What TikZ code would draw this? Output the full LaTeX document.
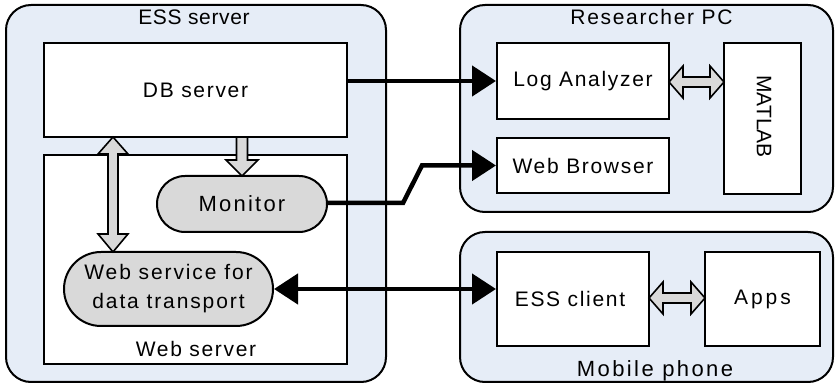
\documentclass[tikz,border=0pt]{standalone}
\usepackage{fontspec}
\setmainfont{Liberation Sans}
\newfontfamily\labfont[LetterSpace=8]{Liberation Sans}
\newfontfamily\monfont[LetterSpace=10]{Liberation Sans}
\newfontfamily\wssfont[LetterSpace=9]{Liberation Sans}
\newfontfamily\appsfont[LetterSpace=14]{Liberation Sans}
\newfontfamily\esstfont[LetterSpace=3]{Liberation Sans}
\newfontfamily\phonetfont[LetterSpace=11]{Liberation Sans}
\usetikzlibrary{arrows.meta,calc}
\definecolor{grpblue}{HTML}{E6EDF7}
\definecolor{pillgray}{HTML}{D9D9D9}
\tikzset{
  group/.style={draw=black, line width=2pt, fill=grpblue, rounded corners=25pt, inner sep=0pt},
  box/.style={draw=black, line width=2pt, fill=white, inner sep=0pt, font=\labfont\fontsize{21}{29}\selectfont, align=center},
  pill/.style={draw=black, line width=2pt, fill=pillgray, inner sep=0pt, font=\labfont\fontsize{21}{29}\selectfont, align=center},
  lab/.style={inner sep=0pt, font=\labfont\fontsize{21}{25}\selectfont},
  title/.style={inner sep=0pt, font=\labfont\fontsize{21}{25}\selectfont},
  conn/.style={line width=4.5pt, draw=black},
  tip/.style={-{Triangle[length=24pt,width=30pt]}},
  dtip/.style={{Triangle[length=24pt,width=30pt]}-{Triangle[length=24pt,width=30pt]}},
  hollow/.style={draw=black, line width=1.6pt, fill=pillgray, line join=miter},
}
\begin{document}
\begin{tikzpicture}[x=1pt,y=-1pt]
\useasboundingbox (0,0) rectangle (836,387);
% groups
\node[group, minimum width=380pt, minimum height=377pt] (ess) at (196,193.5) {};
\node[group, minimum width=373pt, minimum height=207pt] (pc) at (646.5,108.5) {};
\node[group, minimum width=373pt, minimum height=150pt] (phone) at (646.5,307) {};
\node[title, font=\esstfont\fontsize{21}{25}\selectfont] (esst) at (194,17) {ESS server};
\node[title] (pct) at (651.5,17) {Researcher PC};
\node[title, font=\phonetfont\fontsize{22}{26}\selectfont] (phonet) at (655,371) {Mobile phone};
% ESS server contents
\node[box, minimum width=303pt, minimum height=94pt] (db) at (195.5,90) {DB server};
\node[box, minimum width=303pt, minimum height=209pt] (websrv) at (195.5,259.5) {};
\node[lab] (websrvt) at (196,349) {Web server};
\node[pill, rounded corners=28pt, minimum width=170pt, minimum height=56pt, font=\monfont\fontsize{22}{26}\selectfont] (monitor) at (242,204) {Monitor};
\node[pill, rounded corners=37pt, minimum width=209pt, minimum height=74pt, font=\wssfont\fontsize{21}{29}\selectfont] (wss) at (168.5,289) {Web service for\\data transport};
% Researcher PC contents
\node[box, minimum width=172pt, minimum height=76pt] (log) at (583,81) {Log Analyzer};
\node[box, minimum width=172pt, minimum height=55pt] (browser) at (583,165.5) {Web Browser};
\node[box, minimum width=77pt, minimum height=151pt] (matlab) at (762.5,118.5) {};
\node[lab, rotate=-90, font=\fontsize{21}{25}\selectfont] (matlabt) at (764,116.5) {MATLAB};
% Mobile phone contents
\node[box, minimum width=152pt, minimum height=94pt] (client) at (573,299) {};
\node[lab] (clientt) at (570,299) {ESS client};
\node[box, minimum width=115pt, minimum height=94pt, font=\appsfont\fontsize{21}{25}\selectfont] (apps) at (762.5,299) {Apps};
% connectors
\draw[conn, tip] (db.east |- log.west) -- (log.west);
\coordinate (k1) at (403,203);
\coordinate (k2) at (422,165.5);
\draw[conn, tip, line join=miter] (monitor.east |- k1) -- (k1) -- (k2) -- (browser.west);
\draw[conn, dtip] (wss.east) -- (wss.east -| client.west);
% hollow double arrow: DB <-> Web service
\draw[hollow] (113,137) -- (128,154) -- (118,154) -- (118,234) -- (128,234) -- (113,252)
  -- (98,234) -- (108,234) -- (108,154) -- (98,154) -- cycle;
% hollow arrow DB -> Monitor
\draw[hollow] (236.5,137) -- (247.5,137) -- (247.5,160) -- (258,160) -- (242,176)
  -- (226,160) -- (236.5,160) -- cycle;
% hollow double arrow Log <-> MATLAB
\draw[hollow] (669,82) -- (683,66) -- (683,77) -- (710,77) -- (710,66) -- (724,82)
  -- (710,98) -- (710,87) -- (683,87) -- (683,98) -- cycle;
% hollow double arrow client <-> apps
\draw[hollow] (649,298) -- (663,282) -- (663,293) -- (691,293) -- (691,282) -- (705,298)
  -- (691,314) -- (691,303) -- (663,303) -- (663,314) -- cycle;
\end{tikzpicture}
\end{document}
